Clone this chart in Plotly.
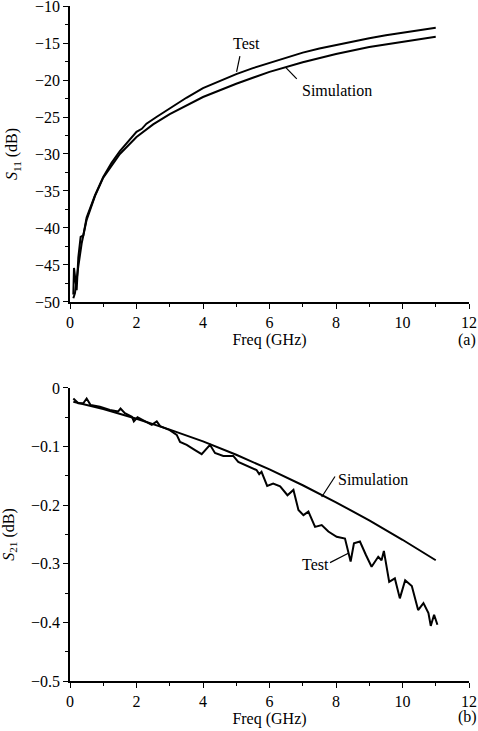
import plotly.graph_objects as go
from plotly.subplots import make_subplots

# ---- data (a): S11 ----
freq_test_a = [0.1, 0.12, 0.2, 0.25, 0.32, 0.4, 0.5, 0.6, 0.75, 1.0, 1.25, 1.5, 1.75, 2.0, 2.16, 2.3,
               2.6, 3.0, 3.5, 4.0, 4.5, 5.0, 5.5, 6.0, 6.5, 7.0, 7.5, 8.0, 8.5, 9.0, 9.5, 10.0, 10.5, 11.0]
s11_test = [-49.0, -45.4, -48.4, -44.0, -41.2, -41.0, -38.6, -37.3, -35.6, -33.1, -31.2, -29.6, -28.3,
            -27.0, -26.6, -25.9, -25.0, -23.8, -22.4, -21.1, -20.1, -19.2, -18.4, -17.7, -17.0, -16.3,
            -15.75, -15.25, -14.8, -14.35, -13.95, -13.6, -13.25, -12.95]
freq_sim_a = [0.1, 0.15, 0.25, 0.35, 0.5, 0.75, 1.0, 1.5, 2.0, 2.5, 3.0, 3.5, 4.0, 5.0, 6.0, 7.0,
              8.0, 9.0, 10.0, 11.0]
s11_sim = [-49.5, -48.8, -45.2, -42.1, -38.9, -35.7, -33.2, -30.0, -27.7, -26.0, -24.6, -23.4, -22.3,
           -20.5, -18.9, -17.6, -16.5, -15.55, -14.8, -14.15]

# ---- data (b): S21 ----
freq_test_b = [0.1, 0.25, 0.4, 0.5, 0.62, 0.9, 1.2, 1.45, 1.52, 1.65, 1.86, 1.92, 2.03, 2.26, 2.46, 2.61,
               2.71, 3.0, 3.21, 3.31, 3.51, 3.76, 3.96, 4.21, 4.36, 4.61, 4.91, 5.06, 5.41, 5.61, 5.69,
               5.76, 5.93, 6.11, 6.32, 6.54, 6.72, 6.87, 7.02, 7.17, 7.37, 7.57, 7.77, 8.02, 8.27, 8.44,
               8.54, 8.72, 8.90, 9.07, 9.27, 9.37, 9.44, 9.60, 9.77, 9.92, 10.08, 10.28, 10.47, 10.63,
               10.78, 10.85, 10.95, 11.05]
s21_test = [-0.018, -0.026, -0.026, -0.018, -0.029, -0.032, -0.0375, -0.040, -0.035, -0.043, -0.049,
            -0.057, -0.050, -0.057, -0.063, -0.057, -0.065, -0.072, -0.080, -0.092, -0.097, -0.106,
            -0.113, -0.097, -0.111, -0.116, -0.116, -0.126, -0.135, -0.140, -0.147, -0.143, -0.167,
            -0.163, -0.168, -0.183, -0.174, -0.208, -0.217, -0.211, -0.237, -0.234, -0.245, -0.254,
            -0.257, -0.296, -0.265, -0.262, -0.285, -0.305, -0.288, -0.294, -0.278, -0.331, -0.325,
            -0.359, -0.328, -0.338, -0.379, -0.367, -0.384, -0.406, -0.387, -0.404]
freq_sim_b = [0.1, 1.0, 2.0, 3.0, 4.0, 5.0, 6.0, 7.0, 8.0, 9.0, 10.0, 11.0]
s21_sim = [-0.0235, -0.036, -0.0525, -0.071, -0.091, -0.114, -0.139, -0.166, -0.195, -0.226, -0.259, -0.294]

FONT = "Liberation Serif, Times New Roman, serif"
FS = 16

fig = make_subplots(rows=2, cols=1, vertical_spacing=0.1)

line = dict(color="black", width=2)
fig.add_trace(go.Scatter(x=freq_test_a, y=s11_test, mode="lines", line=line, name="Test"), row=1, col=1)
fig.add_trace(go.Scatter(x=freq_sim_a, y=s11_sim, mode="lines", line=line, name="Simulation"), row=1, col=1)
fig.add_trace(go.Scatter(x=freq_test_b, y=s21_test, mode="lines", line=line, name="Test"), row=2, col=1)
fig.add_trace(go.Scatter(x=freq_sim_b, y=s21_sim, mode="lines", line=line, name="Simulation"), row=2, col=1)

axis_common = dict(showline=True, linecolor="black", linewidth=1.5, showgrid=False, zeroline=False,
                   ticks="outside", ticklen=5, tickwidth=1.2, tickcolor="black", automargin=False,
                   ticklabeloverflow="allow",
                   tickfont=dict(family=FONT, size=FS, color="black"), mirror=False)
minor_common = dict(ticks="outside", ticklen=3, tickwidth=1.2, tickcolor="black", showgrid=False)

xa = dict(axis_common, range=[0, 12], dtick=2, tick0=0, minor=dict(minor_common, dtick=1),
          title=dict(text="Freq (GHz)", font=dict(family=FONT, size=FS, color="black"), standoff=3))
fig.update_xaxes(xa, row=1, col=1)
fig.update_xaxes(xa, row=2, col=1)
fig.update_yaxes(axis_common, range=[-50, -10], dtick=5, tick0=-50,
                 minor=dict(minor_common, dtick=2.5),
                 title=dict(text="<i>S</i><sub>11</sub> (dB)", font=dict(family=FONT, size=FS, color="black"),
                            standoff=13), row=1, col=1)
fig.update_yaxes(axis_common, range=[-0.5, 0], dtick=0.1, tick0=-0.5,
                 minor=dict(minor_common, dtick=0.05),
                 title=dict(text="<i>S</i><sub>21</sub> (dB)", font=dict(family=FONT, size=FS, color="black"),
                            standoff=13), row=2, col=1)

fig.update_layout(
    width=478, height=731, plot_bgcolor="white", paper_bgcolor="white", showlegend=False,
    margin=dict(l=70, r=9, t=6, b=50, autoexpand=False),
    font=dict(family=FONT, size=FS, color="black"),
)
fig.update_layout(yaxis=dict(domain=[0.5615, 1.0]), yaxis2=dict(domain=[0.0, 0.4341]))

tfont = dict(family=FONT, size=FS, color="black")
ann = [
    dict(x=5.31, y=-15.0, xref="x", yref="y", text="Test", showarrow=False, font=tfont),
    dict(x=8.02, y=-21.45, xref="x", yref="y", text="Simulation", showarrow=False, font=tfont),
    dict(x=9.10, y=-0.157, xref="x2", yref="y2", text="Simulation", showarrow=False, font=tfont),
    dict(x=7.37, y=-0.302, xref="x2", yref="y2", text="Test", showarrow=False, font=tfont),
    dict(x=0.995, y=0.505, xref="paper", yref="paper", text="(a)", showarrow=False, font=tfont,
         xanchor="center", yanchor="middle"),
    dict(x=0.995, y=-0.053, xref="paper", yref="paper", text="(b)", showarrow=False, font=tfont,
         xanchor="center", yanchor="middle"),
]
fig.update_layout(annotations=ann)

lk = dict(color="black", width=1.2)
fig.add_shape(type="line", x0=5.11, y0=-16.76, x1=5.01, y1=-18.9, xref="x", yref="y", line=lk)
fig.add_shape(type="line", x0=6.5, y0=-18.35, x1=6.82, y1=-19.86, xref="x", yref="y", line=lk)
fig.add_shape(type="line", x0=7.97, y0=-0.151, x1=7.57, y1=-0.186, xref="x2", yref="y2", line=lk)
fig.add_shape(type="line", x0=7.82, y0=-0.298, x1=8.37, y1=-0.282, xref="x2", yref="y2", line=lk)

fig.write_html("out.html", config={"displayModeBar": False},
               post_script="document.body.style.margin='0';document.body.style.overflow='hidden';")
